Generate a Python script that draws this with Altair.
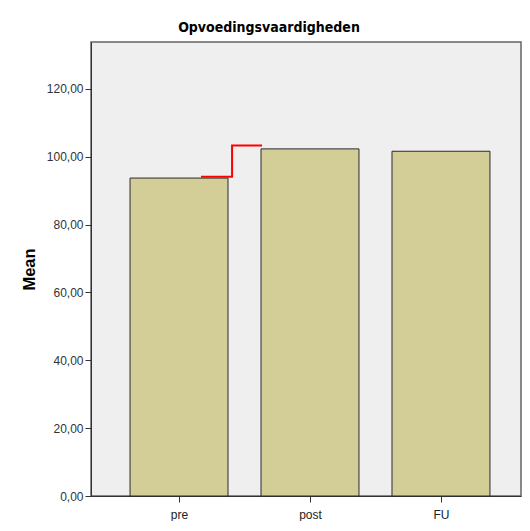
import altair as alt
import pandas as pd

categories = ["pre", "post", "FU"]
positions = [1, 2, 3]
means = [93.7, 102.3, 101.6]

red_x = [1.168, 1.405, 1.405, 1.634]
red_y = [94.1, 94.1, 103.3, 103.3]
red_order = [0, 1, 2, 3]

half = 0.374
bars_df = pd.DataFrame({
    "cat": categories,
    "pos": positions,
    "mean": means,
})
bars_df["x0"] = bars_df["pos"] - half
bars_df["x1"] = bars_df["pos"] + half

red_df = pd.DataFrame({"x": red_x, "y": red_y, "o": red_order})

xscale = alt.Scale(domain=[0.328, 3.611], nice=False, zero=False)
yscale = alt.Scale(domain=[0, 133.8], nice=False)

label_expr = "[" + ",".join(f"'{c}'" for c in categories) + "][datum.value - 1]"

bars = alt.Chart(bars_df).mark_bar(
    fill="#D3CE97", stroke="#2a2a2a", strokeWidth=1
).encode(
    x=alt.X("x0:Q", scale=xscale, axis=alt.Axis(
        values=positions, labelExpr=label_expr, title=None, grid=False,
        tickSize=6, labelPadding=7, domainColor="#333", tickColor="#333",
        labelColor="#222", labelFont="Liberation Sans", labelFontSize=12)),
    x2="x1:Q",
    y=alt.Y("mean:Q", scale=yscale, axis=alt.Axis(
        values=[0, 20, 40, 60, 80, 100, 120],
        labelExpr="replace(format(datum.value, '.2f'), '.', ',')",
        title="Mean", titleFont="Liberation Sans", titleFontSize=16.5,
        titleFontWeight="bold", titleColor="#000", titlePadding=9,
        grid=False, tickSize=6, labelPadding=2, domainColor="#333",
        tickColor="#333", labelColor="#333", labelFont="Liberation Sans",
        labelFontSize=12)),
    y2=alt.datum(0),
)

red = alt.Chart(red_df).mark_line(color="#FF0000", strokeWidth=2, interpolate="linear").encode(
    x=alt.X("x:Q", scale=xscale),
    y=alt.Y("y:Q", scale=yscale),
    order="o:Q",
)

chart = alt.layer(bars, red).properties(
    width=430,
    height=454,
    background="#FFFFFF",
    title=alt.TitleParams(
        "Opvoedingsvaardigheden", font="DejaVu Sans Condensed",
        fontSize=14, fontWeight="bold", color="#000", offset=7, dx=-37,
        anchor="middle"),
    autosize=alt.AutoSizeParams(type="none"),
    padding={"left": 83, "top": 34, "right": 1, "bottom": 25},
).configure_view(
    fill="#EFEFEF", stroke="#666666", strokeWidth=1.5
)

chart.save("out.html", embed_options={"renderer": "svg", "actions": False})
